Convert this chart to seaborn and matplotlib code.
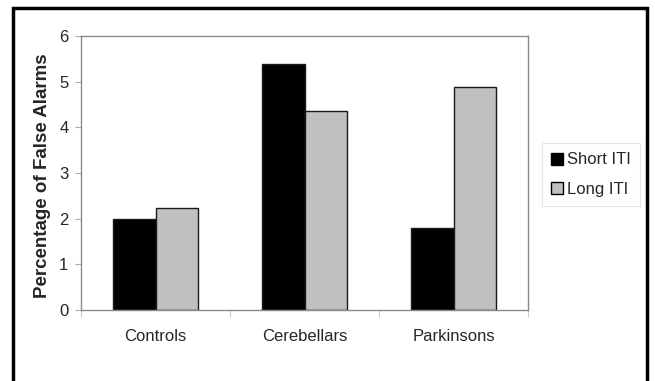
import matplotlib
matplotlib.use("Agg")
import matplotlib.pyplot as plt
import matplotlib.patches as mpatches
import seaborn as sns
import pandas as pd

groups = ["Controls", "Cerebellars", "Parkinsons"]
short_iti = [2.0, 5.38, 1.80]
long_iti = [2.24, 4.36, 4.88]
conditions = ["Short ITI", "Long ITI"]
y_ticks = [0, 1, 2, 3, 4, 5, 6]

df = pd.DataFrame({
    "group": groups * 2,
    "value": short_iti + long_iti,
    "condition": [conditions[0]] * 3 + [conditions[1]] * 3,
})

sns.set_style("white")
plt.rcParams["font.family"] = ["Liberation Sans", "DejaVu Sans"]

fig = plt.figure(figsize=(6.55, 3.81), dpi=100)
ax = fig.add_axes([81 / 655, 1 - 310 / 381, (528 - 81) / 655, (310 - 36) / 381])

sns.barplot(data=df, x="group", y="value", hue="condition", order=groups,
            hue_order=conditions, palette=["#000000", "#C0C0C0"],
            width=0.575, gap=0, edgecolor="#1a1a1a", linewidth=1.0,
            ax=ax, legend=False)

ax.set_ylim(0, 6)
ax.set_xlim(-0.5, 2.5)
ax.set_yticks(y_ticks)
ax.set_xlabel("")
ax.set_ylabel("Percentage of False Alarms", fontsize=13.5, fontweight="bold")
ax.yaxis.set_label_coords(-0.067, 0.489)

for s in ax.spines.values():
    s.set_color("#8a8a8a")
    s.set_linewidth(1.0)

ax.tick_params(axis="y", which="major", left=True, length=4, width=0.8,
               color="#aaaaaa", labelsize=12, pad=5)
ax.tick_params(axis="x", which="major", bottom=False, length=0,
               labelsize=12, pad=13.5)
ax.set_xticks([-0.5, 0.5, 1.5, 2.5], minor=True)
ax.tick_params(axis="x", which="minor", bottom=True, length=5, width=0.8,
               color="#cccccc")

handles = [
    mpatches.Patch(facecolor="#000000", edgecolor="#000000", label=conditions[0]),
    mpatches.Patch(facecolor="#C0C0C0", edgecolor="#000000", label=conditions[1]),
]
leg = fig.legend(handles=handles, loc="center left",
                 bbox_to_anchor=(542 / 655, 1 - 174.5 / 381), fontsize=12,
                 handlelength=0.72, handleheight=0.72, handletextpad=0.25,
                 frameon=True, fancybox=False, borderpad=0.55,
                 borderaxespad=0, labelspacing=0.85)
leg.get_frame().set_edgecolor("#e0e0e0")
leg.get_frame().set_linewidth(0.8)

# Outer frame around the whole chart
frame = mpatches.Rectangle((13 / 655, -0.05), (647 - 13) / 655, 1.05 - 8 / 381,
                           transform=fig.transFigure, fill=False,
                           edgecolor="black", linewidth=2.5, clip_on=False)
fig.add_artist(frame)

fig.savefig("out.png", dpi=100)
